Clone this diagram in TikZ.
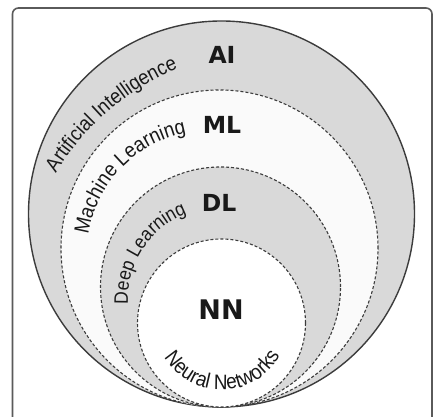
\documentclass[tikz,border=0pt]{standalone}
\usepackage{fontspec}
\setmainfont{Liberation Sans}
\newfontfamily\tagfont{DejaVu Sans}
\newfontfamily\arcfont{Liberation Sans}[FakeStretch=0.9]
\usetikzlibrary{decorations.text}

\definecolor{ringgray}{HTML}{D9D9D9}
\definecolor{palewhite}{HTML}{FAFAFA}
\definecolor{edgegray}{HTML}{3C3C3C}
\definecolor{framegray}{HTML}{5A5A5A}

\tikzset{
  setcircle/.style={circle, inner sep=0pt, minimum size=#1, draw=edgegray},
  solidedge/.style={line width=1.4pt},
  dashedge/.style={line width=1.1pt, dash pattern=on 3pt off 2pt},
  tag/.style={font=\tagfont\bfseries\fontsize{23.5}{24}\selectfont, text=black!90, inner sep=0pt},
  arctext/.style 2 args={decorate, decoration={text along path, text align=center,
      text color=black!90, text={|\arcfont\fontsize{#1}{#1}\selectfont|#2}}},
  framebox/.style={draw=framegray, line width=1.6pt, rounded corners=6pt}
}

\begin{document}
\begin{tikzpicture}[x=1pt, y=1pt]
\useasboundingbox (0,0) rectangle (434,417);
\clip (0,0) rectangle (434,417);
\fill[white] (0,0) rectangle (434,417);

% outer frame (its lower edge runs below the page)
\draw[framebox] (12.5,-8) rectangle (432,409);

% nested sets, all touching at the bottom
\node[setcircle=386pt, solidedge, fill=ringgray] (ai) at (221.5,203) {};
\node[setcircle=317pt, dashedge, fill=palewhite] (ml) at (219.5,168.5) {};
\node[setcircle=240pt, dashedge, fill=ringgray] (dl) at (220.5,130) {};
\node[setcircle=168pt, dashedge, fill=white] (nn) at (221.5,94) {};

% short names
\node[tag] (aitag) at (222,362) {AI};
\node[tag] (mltag) at (222,292) {ML};
\node[tag] (dltag) at (219,214) {DL};
\node[tag, font=\tagfont\bfseries\fontsize{27}{28}\selectfont] (nntag) at (221,107) {NN};

% centres of the arcs that carry the long names
\coordinate (aiarc) at (281,106);
\coordinate (mlarc) at (209,164);
\coordinate (dlarc) at (219,118);

% full names along the rings
\path[arctext={20.6}{Artificial Intelligence}]
  ([shift={(150.75:264)}]aiarc) arc[start angle=150.75, end angle=110.75, radius=264];
\path[arctext={21}{Machine Learning}]
  ([shift={(176:122)}]mlarc) arc[start angle=176, end angle=96, radius=122];
\path[arctext={19.5}{Deep Learning}]
  ([shift={(188:91)}]dlarc) arc[start angle=188, end angle=106, radius=91];
\path[arctext={21}{Neural Networks}]
  ([shift={(200:67)}]nn.center) arc[start angle=200, end angle=342, radius=67];
\end{tikzpicture}
\end{document}
